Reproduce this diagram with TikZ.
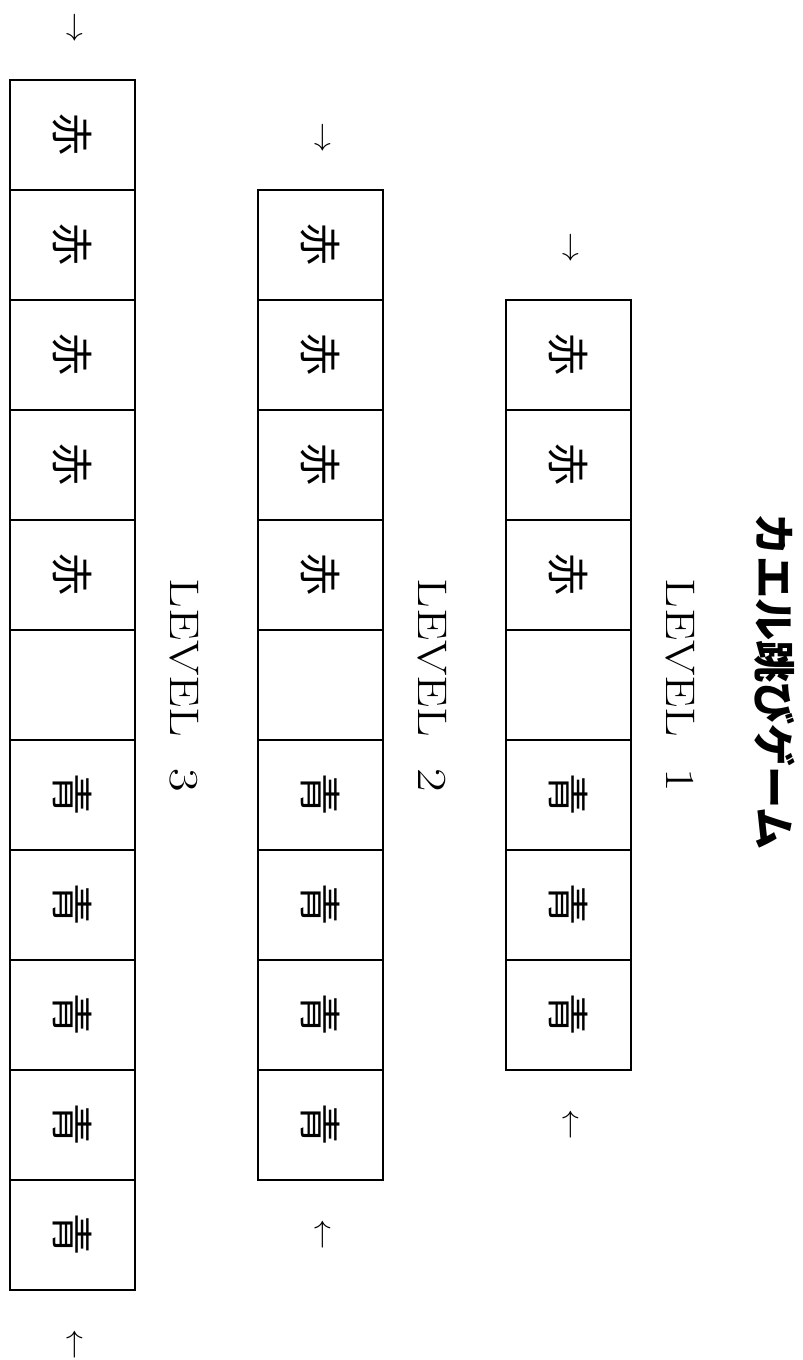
\documentclass[tikz,border=0pt]{standalone}
\usepackage{fontspec}
\newfontfamily\jpfont{Noto Sans CJK JP}
\begin{document}
\begin{tikzpicture}[x=0.02cm,y=-0.02cm,
  cell/.style={draw,line width=1.6pt,rotate=-90,minimum width=2.2cm,minimum height=2.5cm,inner sep=0pt,font=\jpfont\fontsize{24}{24}\selectfont},
  lvl/.style={rotate=-90,xscale=1.24,font=\fontsize{23.5}{28}\selectfont},
  arr/.style={rotate=-90,font=\fontsize{16}{18}\selectfont}]
  \useasboundingbox (0,0) rectangle (803,1360);

  % title
  \node[rotate=-90,font=\jpfont\bfseries\fontsize{24}{24}\selectfont] (title) at (775,682) {カエル跳びゲーム};

  % one row of stones per level
  \foreach \n in {1,2,3}{
    \pgfmathsetmacro{\cx}{568.5-248*(\n-1)}
    \pgfmathsetmacro{\ty}{300-110*(\n-1)}
    \pgfmathtruncatemacro{\nred}{\n+2}
    \pgfmathtruncatemacro{\nall}{2*\nred}
    \node[lvl] (lv\n) at (\cx+111.5,685) {LEVEL\hspace{0.6em}\n};
    \foreach \k in {0,...,\nall}{
      \ifnum\k<\nred \def\stone{赤}\else\ifnum\k=\nred \def\stone{}\else\def\stone{青}\fi\fi
      \node[cell] (c\n-\k) at (\cx,\ty+55+110*\k) {\stone};
    }
    % entry and exit marks
    \node[arr] (in\n) at (\cx,\ty-52) {$\rightarrow$};
    \node[arr] (out\n) at (\cx,\ty+110*\nall+165) {$\leftarrow$};
  }
\end{tikzpicture}
\end{document}
